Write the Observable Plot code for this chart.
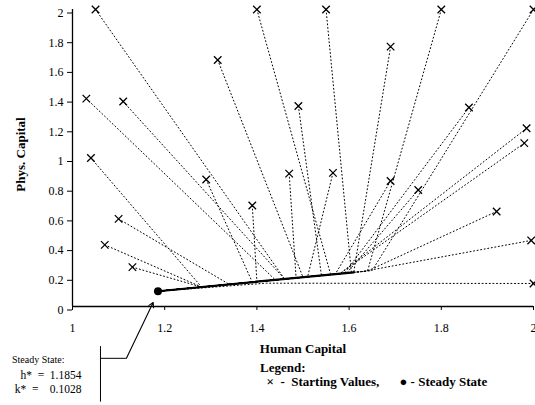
<!DOCTYPE html>
<html><head><meta charset="utf-8">
<script src="https://cdn.jsdelivr.net/npm/d3@7"></script>
<script src="https://cdn.jsdelivr.net/npm/@observablehq/plot@0.6"></script>
<style>
html,body{margin:0;padding:0;background:#fff;}
#chart{width:535px;height:405px;overflow:hidden;}
#chart svg, #chart svg text{font-family:"Liberation Serif","DejaVu Serif",serif !important;}
</style></head><body><div id="chart"></div>
<script>
// Starting values (human capital h, physical capital k)
const startH = [1.05, 1.40, 1.55, 1.80, 2.00, 1.315, 1.03, 1.11, 1.49, 1.69, 1.86, 1.985, 1.98, 1.04, 1.10, 1.07, 1.13, 1.29, 1.39, 1.47, 1.565, 1.69, 1.75, 1.92, 1.995, 2.00];
const startK = [2.00, 2.00, 2.00, 2.00, 2.00, 1.66, 1.40, 1.38, 1.35, 1.75, 1.34, 1.20, 1.10, 1.00, 0.59, 0.415, 0.265, 0.855, 0.68, 0.895, 0.90, 0.845, 0.785, 0.64, 0.445, 0.155];
// Where each trajectory reaches the stable arm
const joinH = [1.46, 1.56, 1.605, 1.64, 1.65, 1.50, 1.44, 1.46, 1.54, 1.61, 1.59, 1.58, 1.58, 1.28, 1.34, 1.28, 1.28, 1.39, 1.40, 1.485, 1.51, 1.57, 1.595, 1.64, 1.63, 1.42];
const joinK = [0.185, 0.215, 0.229, 0.239, 0.242, 0.197, 0.179, 0.185, 0.209, 0.230, 0.224, 0.221, 0.221, 0.131, 0.149, 0.131, 0.131, 0.164, 0.167, 0.193, 0.200, 0.218, 0.226, 0.239, 0.236, 0.157];
// Steady state
const steadyH = 1.1854;
const steadyK = 0.1028;
// Stable arm (drawn solid)
const armH = [1.1854, 1.61];
const armK = [0.1028, 0.230];
// Ticks
const xTicks = [1, 1.2, 1.4, 1.6, 1.8, 2];
const yTicks = [0, 0.2, 0.4, 0.6, 0.8, 1, 1.2, 1.4, 1.6, 1.8, 2];
// Texts
const xTitle = "Human Capital";
const yTitle = "Phys. Capital";
const noteLines = ["Steady State:", "h*\u00a0\u00a0=\u00a0\u00a01.1854", "k*\u00a0\u00a0=\u00a0\u00a0\u00a0\u00a00.1028"];
const legendTitle = "Legend:";
const legendItems = ["\u00d7\u00a0 -\u00a0 Starting Values,", "\u25cf - Steady State"];
// Annotation callout geometry (data units)
const calloutBarH = 1.0607, calloutBarK = [-0.27, -0.644];
const calloutElbow = {h: 1.117, k: -0.349};
const calloutTip = {h: 1.175, k: 0.027};

const paths = [];
startH.forEach((h, i) => {
  paths.push({id: i, h, k: startK[i]});
  paths.push({id: i, h: joinH[i], k: joinK[i]});
  paths.push({id: i, h: steadyH, k: steadyK});
});
const starts = startH.map((h, i) => ({h, k: startK[i]}));
const arm = armH.map((h, i) => ({h, k: armK[i]}));

const serif = "Liberation Serif, DejaVu Serif, serif";
const txt = (s, o) => Plot.text([s], {fontFamily: serif, lineAnchor: "middle", fill: "#000", ...o});

const chart = Plot.plot({
  width: 535, height: 405,
  marginLeft: 72, marginRight: 2, marginTop: 9, marginBottom: 99,
  style: {fontFamily: serif, fontSize: "12px", background: "#fff", color: "#000", overflow: "visible"},
  x: {domain: [1, 2]},
  y: {domain: [0, 2]},
  marks: [
    Plot.line(paths, {x: "h", y: "k", z: "id", stroke: "#000", strokeWidth: 1, strokeDasharray: "1,2.6"}),
    Plot.line(arm, {x: "h", y: "k", stroke: "#000", strokeWidth: 2.2}),
    Plot.dot(starts, {x: "h", y: "k", symbol: "times", r: 3.5, stroke: "#000", strokeWidth: 1.3}),
    Plot.dot([{h: steadyH, k: steadyK}], {x: "h", y: "k", r: 4, fill: "#000"}),
    Plot.ruleX([1], {y1: 0, y2: 2, stroke: "#000", strokeWidth: 1.3}),
    Plot.ruleY([0], {x1: 1, x2: 2, stroke: "#000", strokeWidth: 1.3}),
    Plot.axisX({ticks: xTicks, tickSize: 4, tickPadding: 13, tickFormat: (d) => `${d}`, label: null, fontSize: 12}),
    Plot.axisY({ticks: yTicks, tickSize: 5, tickPadding: 4, dy: 3.5, tickFormat: (d) => `${d}`, label: null, fontSize: 12}),
    txt(xTitle, {frameAnchor: "bottom", dy: 42, textAnchor: "middle", fontWeight: "bold", fontSize: 13}),
    txt(yTitle, {frameAnchor: "left", dx: -52, dy: -3.5, rotate: -90, textAnchor: "middle", fontWeight: "bold", fontSize: 13}),
    txt(legendTitle, {frameAnchor: "bottom-left", dx: 187.5, dy: 61, textAnchor: "start", fontWeight: "bold", fontSize: 13}),
    txt(legendItems[0], {frameAnchor: "bottom-left", dx: 194, dy: 75.5, textAnchor: "start", fontWeight: "bold", fontSize: 13}),
    txt(legendItems[1], {frameAnchor: "bottom-left", dx: 327, dy: 75.5, textAnchor: "start", fontWeight: "bold", fontSize: 13}),
    txt(noteLines[0], {frameAnchor: "bottom-left", dx: -60.5, dy: 53, textAnchor: "start", fontSize: 10}),
    txt(noteLines[1], {frameAnchor: "bottom-left", dx: 9, dy: 69, textAnchor: "end", fontSize: 11.5}),
    txt(noteLines[2], {frameAnchor: "bottom-left", dx: 9, dy: 83, textAnchor: "end", fontSize: 11.5}),
    Plot.ruleX([calloutBarH], {y1: calloutBarK[0], y2: calloutBarK[1], stroke: "#000", strokeWidth: 1}),
    Plot.ruleY([calloutElbow.k], {x1: calloutBarH, x2: calloutElbow.h, stroke: "#000", strokeWidth: 1}),
    Plot.arrow([0], {x1: calloutElbow.h, y1: calloutElbow.k, x2: calloutTip.h, y2: calloutTip.k, stroke: "#000", strokeWidth: 1.1, headLength: 7})
  ]
});
document.getElementById("chart").appendChild(chart);
</script>
</body></html>
